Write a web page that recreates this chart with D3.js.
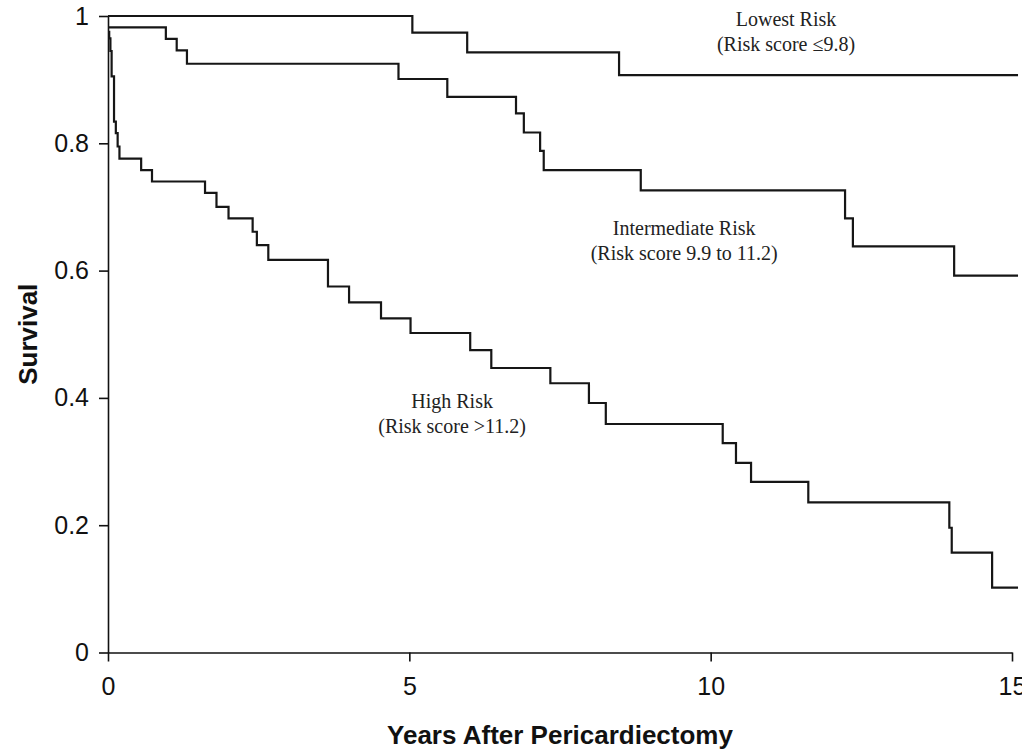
<!DOCTYPE html>
<html>
<head>
<meta charset="utf-8">
<script src="https://cdn.jsdelivr.net/npm/d3@7"></script>
<style>
    body { margin: 0; background: #fff; }
    .axis path, .axis line { stroke: #111; stroke-width: 1.6; }
    .axis text { font-family: "Liberation Sans", Arial, sans-serif; font-size: 25px; fill: #111; }
    .axis-title { font-family: "Liberation Sans", Arial, sans-serif; font-size: 26px; font-weight: bold; fill: #111; }
    .curve { fill: none; stroke: #161616; stroke-width: 2.2; }
    .note { font-family: "Liberation Serif", "Times New Roman", serif; font-size: 20px; fill: #222; }
</style>
</head>
<body>
<div id="km"></div>
<script>
// Data
// ============================================================================
const xTicks = [0, 5, 10, 15],
    yTicks = [0, 0.2, 0.4, 0.6, 0.8, 1];

// Lowest risk (score <= 9.8)
const lowestTimes = [0, 5.05, 5.96, 8.48, 15.1],
    lowestSurvival = [1.0, 0.974, 0.943, 0.907, 0.907];

// Intermediate risk (score 9.9 to 11.2)
const intermediateTimes = [0, 0.96, 1.14, 1.31, 4.82, 5.63, 6.77, 6.9, 7.17, 7.23, 8.84, 12.23, 12.36, 14.04, 15.1],
    intermediateSurvival = [0.982, 0.964, 0.946, 0.925, 0.901, 0.873, 0.847, 0.817, 0.788, 0.758, 0.726, 0.682, 0.638, 0.592, 0.592];

// High risk (score > 11.2)
const highTimes = [0, 0.02, 0.04, 0.06, 0.1, 0.13, 0.16, 0.19, 0.55, 0.73, 1.61, 1.8, 2.0, 2.4, 2.47, 2.66,
        3.65, 4.0, 4.53, 5.02, 6.01, 6.36, 7.34, 7.98, 8.26, 10.2, 10.42, 10.67, 11.62, 13.96, 14.0, 14.67, 15.1],
    highSurvival = [0.975, 0.965, 0.945, 0.905, 0.834, 0.816, 0.795, 0.776, 0.758, 0.74, 0.722, 0.7, 0.682, 0.661, 0.64, 0.617,
        0.575, 0.55, 0.525, 0.502, 0.475, 0.447, 0.423, 0.392, 0.359, 0.329, 0.298, 0.268, 0.236, 0.196, 0.157, 0.102, 0.102];

const groupNames = ["Lowest Risk", "Intermediate Risk", "High Risk"],
    groupScores = ["(Risk score \u22649.8)", "(Risk score 9.9 to 11.2)", "(Risk score >11.2)"];

// Layout
// ============================================================================
const svgWidth = 1022,
    svgHeight = 750,
    margin = {top: 16, left: 108},
    width = 904,
    height = 636.5;

function toPoints(times, surv) {
    return times.map((t, i) => ({t: t, s: surv[i]}));
}

// Plot
// ============================================================================
const svg = d3.select("#km")
    .append("svg")
        .attr("width", svgWidth)
        .attr("height", svgHeight);

const xScale = d3.scaleLinear()
    .domain([0, 15])
    .range([margin.left, margin.left + width]);

const yScale = d3.scaleLinear()
    .domain([0, 1])
    .range([margin.top + height, margin.top]);

// Axes
svg.append("g")
    .attr("class", "axis")
    .attr("transform", "translate(0," + yScale(0) + ")")
    .call(d3.axisBottom(xScale).tickValues(xTicks).tickSize(9).tickSizeOuter(0).tickPadding(16).tickFormat(d => d));

svg.append("g")
    .attr("class", "axis")
    .attr("transform", "translate(" + xScale(0) + ",0)")
    .call(d3.axisLeft(yScale).tickValues(yTicks).tickSize(9).tickSizeOuter(0).tickPadding(10).tickFormat(d => d));

// Curves
const line = d3.line()
    .x(d => xScale(d.t))
    .y(d => yScale(d.s))
    .curve(d3.curveStepAfter);

const curves = [
    toPoints(lowestTimes, lowestSurvival),
    toPoints(intermediateTimes, intermediateSurvival),
    toPoints(highTimes, highSurvival)
];

svg.selectAll("path.curve")
    .data(curves)
    .join("path")
        .attr("class", "curve")
        .attr("d", line);

// Curve labels (anchored in data units)
const labelAnchors = [
    {t: 11.25, s: 0.984},
    {t: 9.56, s: 0.656},
    {t: 5.71, s: 0.384}
];

labelAnchors.forEach((a, i) => {
    const txt = svg.append("text")
        .attr("class", "note")
        .attr("text-anchor", "middle")
        .attr("x", xScale(a.t))
        .attr("y", yScale(a.s));
    txt.append("tspan")
        .attr("x", xScale(a.t))
        .text(groupNames[i]);
    txt.append("tspan")
        .attr("x", xScale(a.t))
        .attr("dy", 25)
        .text(groupScores[i]);
});

// Axis titles
svg.append("text")
    .attr("class", "axis-title")
    .attr("text-anchor", "middle")
    .attr("x", xScale(7.5))
    .attr("y", 744)
    .text("Years After Pericardiectomy");

svg.append("text")
    .attr("class", "axis-title")
    .attr("text-anchor", "middle")
    .attr("transform", "translate(37," + yScale(0.5) + ") rotate(-90)")
    .text("Survival");
</script>
</body>
</html>
